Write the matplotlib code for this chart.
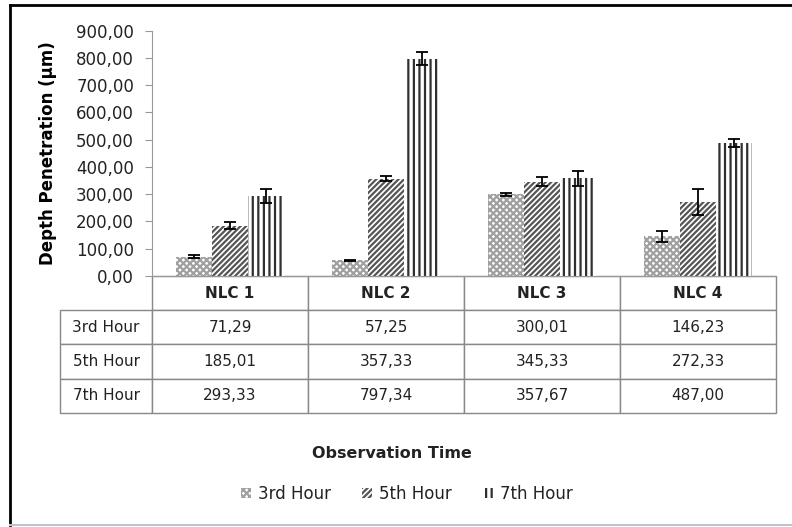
import numpy as np
import matplotlib.pyplot as plt
from matplotlib.lines import Line2D
from matplotlib.patches import Patch

plt.rcParams['font.family'] = ['DejaVu Sans']
plt.rcParams['hatch.linewidth'] = 1.6

categories = ["NLC 1", "NLC 2", "NLC 3", "NLC 4"]
series_names = ["3rd Hour", "5th Hour", "7th Hour"]
h3 = [71.29, 57.25, 300.01, 146.23]
h5 = [185.01, 357.33, 345.33, 272.33]
h7 = [293.33, 797.34, 357.67, 487.00]
err3 = [4, 3, 5, 20]
err5 = [12, 8, 17, 48]
err7 = [26, 25, 28, 14]
yticks = np.arange(0, 901, 100)

values = [h3, h5, h7]
errors = [err3, err5, err7]
hatches = ["xxxxx", "//////", "|||"]
hcolors = ["#a0a0a0", "#555555", "#303030"]

fig = plt.figure(figsize=(7.92, 5.27), dpi=100)
ax = fig.add_axes([0.192, 0.4763, 0.788, 0.4655])
ax_w = 0.788 * 792
ax_h = 0.4655 * 527

x = np.arange(len(categories))
w = 0.23
for i in range(3):
    ax.bar(x + (i - 1) * w, values[i], w, color="white", edgecolor=hcolors[i],
           hatch=hatches[i], linewidth=0, zorder=2)
    ax.errorbar(x + (i - 1) * w, values[i], yerr=errors[i], fmt="none",
                ecolor="black", elinewidth=1.3, capsize=4, capthick=1.3, zorder=3)

ax.set_xlim(-0.5, 3.5)
ax.set_ylim(0, 900)
ax.set_yticks(yticks)
ax.set_yticklabels([f"{v:.2f}".replace(".", ",") for v in yticks], fontsize=12,
                   color="#222222")
ax.set_xticks([])
for s in ["top", "right"]:
    ax.spines[s].set_visible(False)
ax.spines["left"].set_color("#999999")
ax.spines["bottom"].set_color("#999999")
ax.tick_params(axis="y", length=5, color="#999999", pad=8)
ax.set_ylabel("Depth Penetration (µm)", fontsize=12, fontweight="bold", labelpad=14)

# table under the chart: first column holds the series names
cell_text = [[""] + categories]
for name, row in zip(series_names, values):
    cell_text.append([name] + [f"{v:.2f}".replace(".", ",") for v in row])
lab_w = 92
col_w = ax_w / 4
tab_h = 137
tab = ax.table(cellText=cell_text, cellLoc="center",
               bbox=[-lab_w / ax_w, -tab_h / ax_h, (ax_w + lab_w) / ax_w, tab_h / ax_h])
tab.auto_set_font_size(False)
for (r, c), cell in tab.get_celld().items():
    cell.set_edgecolor("#888888")
    cell.set_linewidth(1.0)
    cell.get_text().set_fontsize(11)
    cell.get_text().set_color("#222222")
    cell.set_width(lab_w if c == 0 else col_w)
    if r == 0:
        cell.get_text().set_fontweight("bold")
        if c == 0:
            cell.visible_edges = "open"
    if c == 0:
        cell._loc = "left"
        cell.PAD = 0.03

fig.text(392 / 792, 1 - 453 / 527, "Observation Time", ha="center", va="center",
         fontsize=11.5, fontweight="bold", color="#222222")

handles = [Patch(facecolor="white", edgecolor=hcolors[i], hatch=hatches[i], linewidth=0)
           for i in range(3)]
fig.legend(handles, series_names, loc="center", bbox_to_anchor=(407 / 792, 1 - 494 / 527),
           ncol=3, frameon=False, fontsize=12, handlelength=0.6, handleheight=0.6,
           handletextpad=0.4, columnspacing=1.9, labelcolor="#222222")

fig.add_artist(Line2D([10 / 792, 10 / 792], [2 / 527, 1 - 5 / 527], transform=fig.transFigure,
                      color="black", lw=2))
fig.add_artist(Line2D([10 / 792, 1], [1 - 5 / 527, 1 - 5 / 527], transform=fig.transFigure,
                      color="black", lw=2))
fig.add_artist(Line2D([10 / 792, 1], [2 / 527, 2 / 527], transform=fig.transFigure,
                      color="#b8c4d0", lw=1.5))

fig.savefig("out.png", dpi=100)
